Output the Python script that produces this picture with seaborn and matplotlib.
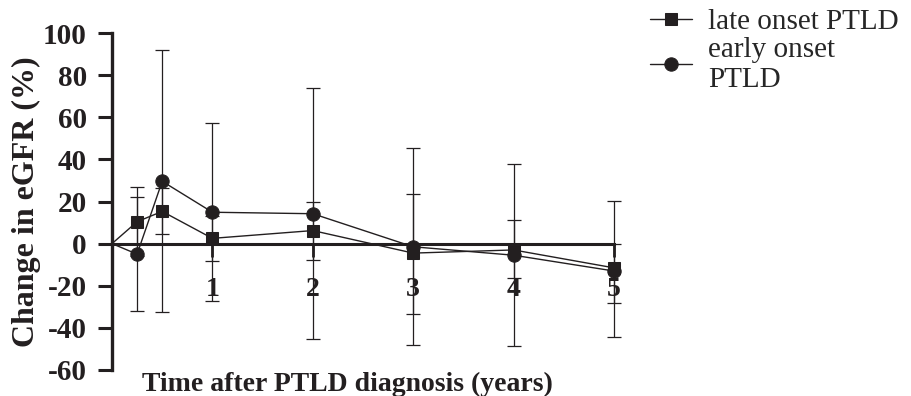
import numpy as np
import matplotlib
matplotlib.use("Agg")
import matplotlib.pyplot as plt
import seaborn as sns

# time after diagnosis (years)
years = [0, 0.25, 0.5, 1, 2, 3, 4, 5]

# late onset PTLD (squares): mean change and error bar limits
late_mean = [0, 10.4, 15.3, 2.5, 6.2, -4.5, -3, -11.5]
late_low = [0, -6, 4.4, -8.1, -8, -33.6, -16.3, -28]
late_high = [0, 27.1, 26.3, 13, 20, 23.5, 11.2, 0]

# early onset PTLD (circles)
early_mean = [0, -5, 29.6, 14.9, 14.2, -1.5, -5.5, -13]
early_low = [0, -32, -32.4, -27.3, -45.3, -48.3, -48.8, -44.5]
early_high = [0, 22.3, 92, 57.3, 73.7, 45.3, 37.7, 20.4]

yticks = [-60, -40, -20, 0, 20, 40, 60, 80, 100]
xticks = [1, 2, 3, 4, 5]

sns.set_theme(style="ticks")
plt.rcParams['font.family'] = ['Liberation Serif', 'DejaVu Serif']
plt.rcParams['font.weight'] = 'bold'
plt.rcParams['axes.unicode_minus'] = False

ink = '#231f20'

fig = plt.figure(figsize=(9.12, 3.96), dpi=100)
ax = fig.add_axes([112 / 912, 26 / 396, 512 / 912, 337 / 396])

series = [
    ("early onset\nPTLD", early_mean, early_low, early_high, 'o', 9.6),
    ("late onset PTLD", late_mean, late_low, late_high, 's', 9.0),
]
for label, mean, low, high, mk, ms in series:
    m = np.array(mean)
    lo = m - np.array(low)
    hi = np.array(high) - m
    ax.errorbar(years[1:], m[1:], yerr=[lo[1:], hi[1:]], fmt='none',
                ecolor=ink, elinewidth=0.9, capsize=4.7, capthick=0.9, zorder=3)
    sns.lineplot(x=years, y=mean, ax=ax, color=ink, linewidth=1.0,
                 marker=mk, markersize=ms, markeredgecolor=ink,
                 markerfacecolor=ink, markevery=list(range(1, len(years))),
                 label=label, zorder=4)

ax.set_xlim(0, 5.1)
ax.set_ylim(-60, 100)
ax.set_xticks(xticks)
ax.set_yticks(yticks)

ax.spines['top'].set_visible(False)
ax.spines['right'].set_visible(False)
ax.spines['left'].set_linewidth(2.4)
ax.spines['left'].set_color(ink)
ax.spines['bottom'].set_position(('data', 0))
ax.spines['bottom'].set_bounds(0, 5)
ax.spines['bottom'].set_linewidth(2.2)
ax.spines['bottom'].set_color(ink)

ax.tick_params(axis='y', direction='out', length=10, width=2.2, pad=8,
               labelsize=21, colors=ink)
ax.tick_params(axis='x', direction='out', length=9, width=2.0, pad=15,
               labelsize=20, colors=ink)

ax.set_ylabel("Change in eGFR (%)", fontsize=23, fontweight='bold', color=ink)
ax.yaxis.set_label_coords(-0.138, 0.5)
ax.set_xlabel("Time after PTLD diagnosis (years)", fontsize=20,
              fontweight='bold', color=ink)
ax.xaxis.set_label_coords(0.459, -0.006)

ax.get_legend().remove()
handles, labels = ax.get_legend_handles_labels()
fig.legend(handles[::-1], labels[::-1], loc='upper left',
           bbox_to_anchor=(0.713, 0.978), frameon=False,
           prop={'family': 'Liberation Serif', 'weight': 'normal', 'size': 21},
           handlelength=1.43, handletextpad=0.55, labelspacing=0.05,
           borderpad=0, borderaxespad=0)
plt.setp(fig.legends[0].get_texts(), linespacing=1.2)

fig.savefig("out.png", dpi=100)
